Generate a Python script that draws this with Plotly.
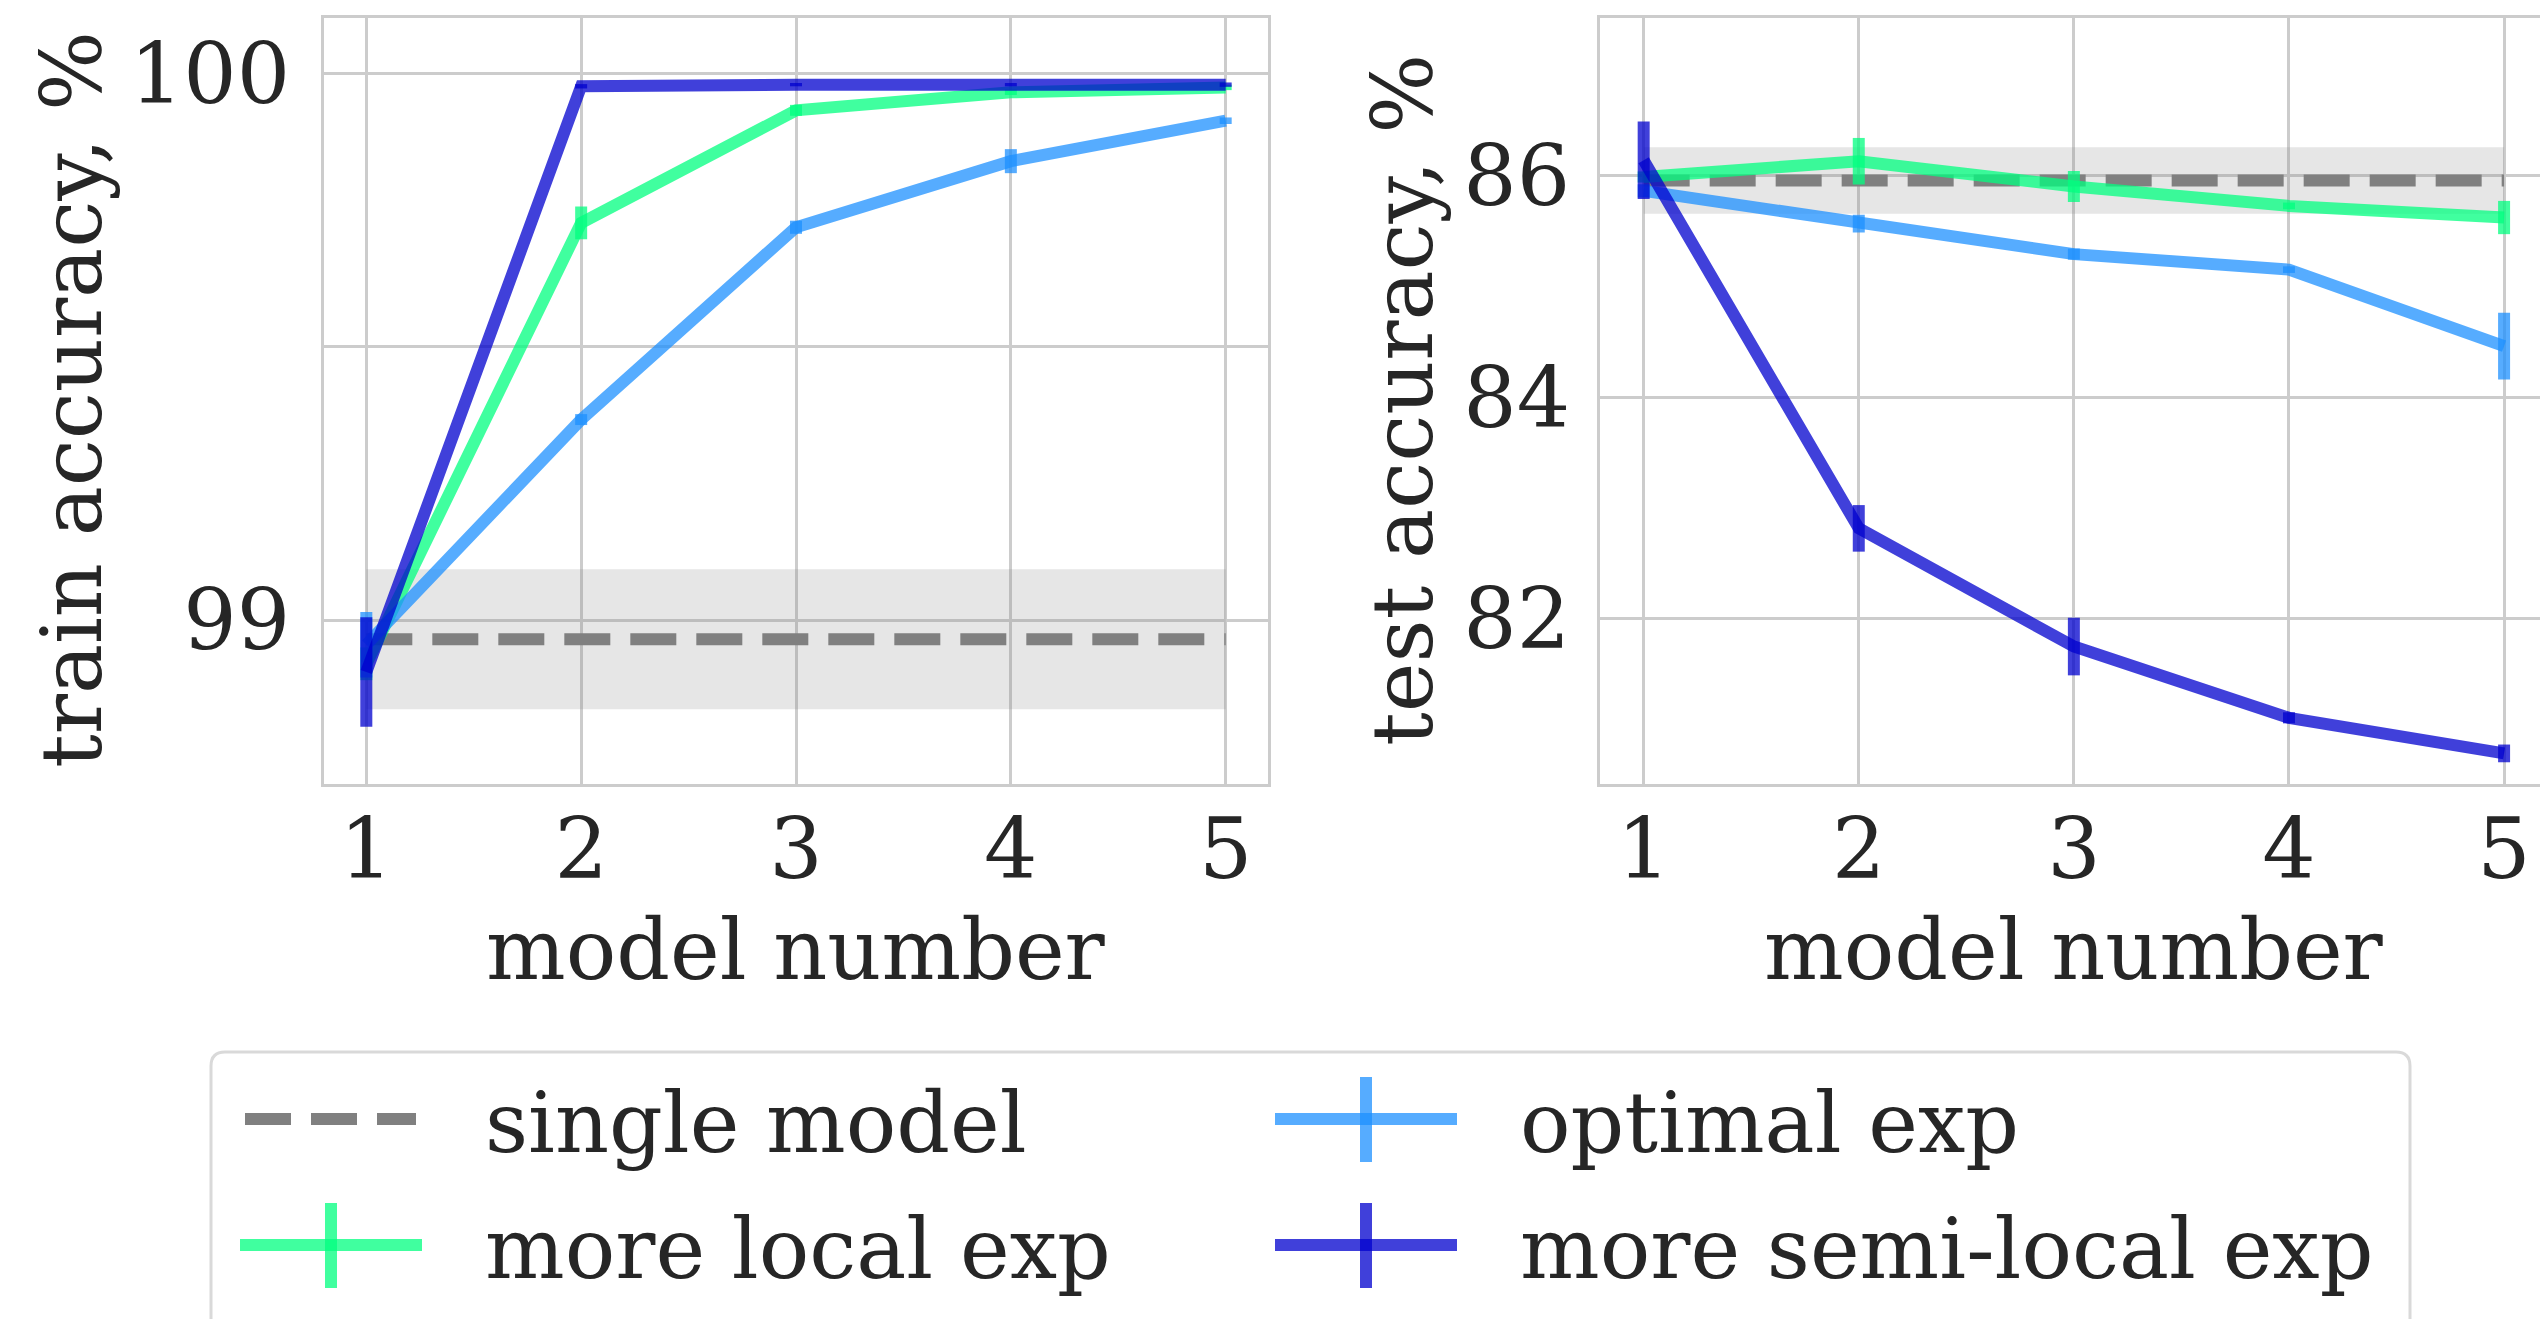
import plotly.graph_objects as go

W, H = 2540, 1319

# ---------------- data ----------------
model_number = [1, 2, 3, 4, 5]
series_names = ["single model", "more local exp", "optimal exp", "more semi-local exp"]

# train accuracy, %
train_single_mean = 98.965
train_single_std = 0.128
train_local = [98.92, 99.727, 99.933, 99.966, 99.975]
train_local_err = [0.03, 0.03, 0.01, 0.005, 0.005]
train_optimal = [98.955, 99.367, 99.719, 99.84, 99.914]
train_optimal_err = [0.06, 0.01, 0.012, 0.022, 0.006]
train_semilocal = [98.905, 99.977, 99.98, 99.98, 99.98]
train_semilocal_err = [0.1, 0.004, 0.003, 0.003, 0.004]

# test accuracy, %
test_single_mean = 85.954
test_single_std = 0.30
test_local = [85.986, 86.128, 85.90, 85.725, 85.62]
test_local_err = [0.05, 0.21, 0.14, 0.03, 0.15]
test_optimal = [85.86, 85.565, 85.29, 85.15, 84.46]
test_optimal_err = [0.06, 0.08, 0.05, 0.03, 0.30]
test_semilocal = [86.137, 82.816, 81.75, 81.107, 80.786]
test_semilocal_err = [0.35, 0.21, 0.26, 0.05, 0.08]

train_ticks = [99, 99.5, 100]
train_ticktext = ["99", "", "100"]
test_ticks = [82, 84, 86]
test_ticktext = ["82", "84", "86"]

# ---------------- styles ----------------
FONT = "DejaVu Serif"
TXT = "#262626"
FS = 84
GRID = "#cccccc"
C_SINGLE = "#808080"
C_BAND = "rgba(128,128,128,0.2)"
C_LOCAL = "rgba(0,255,127,0.75)"
C_OPT = "rgba(30,144,255,0.75)"
C_SEMI = "rgba(0,0,205,0.75)"
LW = 12
DASH = "46px,20px"


def px_x(x):
    return x / W


def px_y(y):
    return 1 - y / H


fig = go.Figure()


def add_panel(xa, ya, smean, sstd, local, local_e, opt, opt_e, semi, semi_e):
    x0, x1 = model_number[0], model_number[-1]
    fig.add_trace(go.Scatter(
        x=[x0, x1, x1, x0, x0],
        y=[smean + sstd, smean + sstd, smean - sstd, smean - sstd, smean + sstd],
        fill="toself", fillcolor=C_BAND, line=dict(width=0), mode="lines",
        hoverinfo="skip", showlegend=False, xaxis=xa, yaxis=ya))
    fig.add_trace(go.Scatter(
        x=[x0, x1], y=[smean, smean], mode="lines",
        line=dict(color=C_SINGLE, width=LW, dash=DASH),
        name=series_names[0], showlegend=False, xaxis=xa, yaxis=ya))
    for vals, errs, col, nm in [(local, local_e, C_LOCAL, series_names[1]),
                                (opt, opt_e, C_OPT, series_names[2]),
                                (semi, semi_e, C_SEMI, series_names[3])]:
        fig.add_trace(go.Scatter(
            x=model_number, y=vals, mode="lines",
            line=dict(color=col, width=LW),
            error_y=dict(type="data", array=errs, visible=True,
                         color=col, thickness=LW, width=0),
            name=nm, showlegend=False, xaxis=xa, yaxis=ya))


add_panel("x", "y", train_single_mean, train_single_std,
          train_local, train_local_err, train_optimal, train_optimal_err,
          train_semilocal, train_semilocal_err)
add_panel("x2", "y2", test_single_mean, test_single_std,
          test_local, test_local_err, test_optimal, test_optimal_err,
          test_semilocal, test_semilocal_err)

axis_common = dict(
    showgrid=True, gridcolor=GRID, gridwidth=3,
    showline=True, linecolor=GRID, linewidth=3, mirror=True,
    zeroline=False, ticks="", automargin=False,
    tickfont=dict(family=FONT, size=FS, color=TXT),
)

fig.update_layout(
    width=W, height=H,
    margin=dict(l=0, r=0, t=0, b=0),
    paper_bgcolor="white", plot_bgcolor="white",
    showlegend=False,
    xaxis=dict(domain=[px_x(324), px_x(1268)], range=[0.803, 5.197],
               tickvals=model_number, ticktext=[str(v) for v in model_number],
               ticklabelstandoff=-10, anchor="y", **axis_common),
    yaxis=dict(domain=[px_y(784), px_y(18)], range=[98.700, 100.102],
               tickvals=train_ticks, ticktext=train_ticktext,
               ticklabelstandoff=14, anchor="x", **axis_common),
    xaxis2=dict(domain=[px_x(1600), 1.0], range=[0.797, 5.167],
                tickvals=model_number, ticktext=[str(v) for v in model_number],
                ticklabelstandoff=-10, anchor="y2", **axis_common),
    yaxis2=dict(domain=[px_y(784), px_y(18)], range=[80.51, 87.42],
                tickvals=test_ticks, ticktext=test_ticktext,
                ticklabelstandoff=10, anchor="x2", **axis_common),
)

ann = []
def text(x, y, s, xanchor="center", yanchor="middle", angle=0):
    ann.append(dict(x=px_x(x), y=px_y(y), xref="paper", yref="paper", text=s,
                    showarrow=False, xanchor=xanchor, yanchor=yanchor,
                    textangle=angle, font=dict(family=FONT, size=FS, color=TXT)))

text(72, 400, "train accuracy, %", angle=-90)
text(1403, 400, "test accuracy, %", angle=-90)
text(796, 950, "model number")
text(2074, 950, "model number")

# ---------------- legend (drawn) ----------------
shapes = []
Lx0, Lx1, Ly0, Ly1, r = 211, 2410, 1052, 1330, 14
path = (f"M {px_x(Lx0 + r)} {px_y(Ly0)} L {px_x(Lx1 - r)} {px_y(Ly0)} "
        f"Q {px_x(Lx1)} {px_y(Ly0)} {px_x(Lx1)} {px_y(Ly0 + r)} "
        f"L {px_x(Lx1)} {px_y(Ly1)} L {px_x(Lx0)} {px_y(Ly1)} "
        f"L {px_x(Lx0)} {px_y(Ly0 + r)} Q {px_x(Lx0)} {px_y(Ly0)} {px_x(Lx0 + r)} {px_y(Ly0)} Z")
shapes.append(dict(type="path", path=path, xref="paper", yref="paper",
                   line=dict(color="#d9d9d9", width=3), fillcolor="rgba(255,255,255,0.8)"))

entries = [
    (series_names[0], C_SINGLE, True, 0, 0),
    (series_names[2], C_OPT, False, 1, 0),
    (series_names[1], C_LOCAL, False, 0, 1),
    (series_names[3], C_SEMI, False, 1, 1),
]
col_x = [240, 1275]
row_y = [1119, 1245]
for nm, col, dashed, c, rr in entries:
    lx, ly = col_x[c], row_y[rr]
    if dashed:
        shapes.append(dict(type="line", xref="paper", yref="paper",
                           x0=px_x(lx + 5), x1=px_x(lx + 176), y0=px_y(ly), y1=px_y(ly),
                           line=dict(color=col, width=LW, dash=DASH)))
    else:
        shapes.append(dict(type="line", xref="paper", yref="paper",
                           x0=px_x(lx), x1=px_x(lx + 182), y0=px_y(ly), y1=px_y(ly),
                           line=dict(color=col, width=LW)))
        shapes.append(dict(type="line", xref="paper", yref="paper",
                           x0=px_x(lx + 91), x1=px_x(lx + 91),
                           y0=px_y(ly - 42), y1=px_y(ly + 43),
                           line=dict(color=col, width=LW)))
    text(lx + 243, ly + 4, nm, xanchor="left")

fig.update_layout(annotations=ann, shapes=shapes)

fig.write_html("out.html")
